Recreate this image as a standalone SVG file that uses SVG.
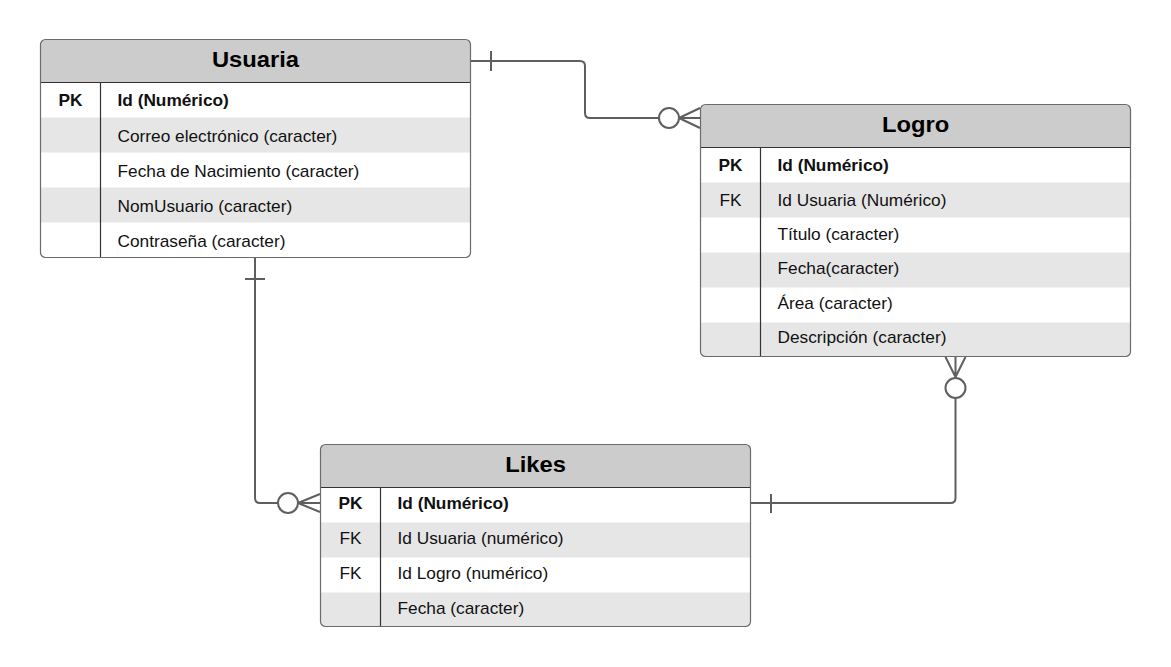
<svg xmlns="http://www.w3.org/2000/svg" width="1171" height="667" viewBox="0 0 1171 667">
<style>
.bg{fill:#ffffff}
.hdr{fill:#cccccc}
.alt{fill:#e6e6e6}
.frame{fill:none;stroke:#6b6b6b;stroke-width:1.2}
.sep{stroke:#333333;stroke-width:1.2;fill:none}
.title{font-family:"Liberation Sans",Arial,sans-serif;font-size:22px;font-weight:bold;fill:#000;text-anchor:middle}
.key{font-family:"Liberation Sans",Arial,sans-serif;font-size:16px;fill:#111;text-anchor:middle}
.fld{font-family:"Liberation Sans",Arial,sans-serif;font-size:16px;fill:#111}
.b{font-weight:bold}
.conn{fill:none;stroke:#5f5f5f;stroke-width:2}
.circ{fill:#ffffff;stroke:#5f5f5f;stroke-width:2}
</style>
<defs>
<clipPath id="cu"><rect x="40.5" y="39.5" width="430" height="218" rx="5"/></clipPath>
<clipPath id="cl"><rect x="700.5" y="104.5" width="430" height="252" rx="5"/></clipPath>
<clipPath id="ck"><rect x="320.5" y="444.5" width="430" height="182" rx="5"/></clipPath>
</defs>
<rect width="1171" height="667" fill="#ffffff"/>

<g id="connectors">
<path class="conn" d="M470.5,61 H580 Q585,61 585,66 V113 Q585,118 590,118 H659"/>
<path class="conn" d="M491,51 V71"/>
<path class="conn" d="M679,118 L700,108 M679,118 L700,118 M679,118 L700,128"/>
<circle class="circ" cx="669" cy="118" r="10"/>

<path class="conn" d="M255,258 V498 Q255,503 260,503 H278"/>
<path class="conn" d="M245,279 H265"/>
<path class="conn" d="M298,503 L320,494 M298,503 L320,503 M298,503 L320,512"/>
<circle class="circ" cx="288" cy="503" r="10"/>

<path class="conn" d="M955.5,398 V498 Q955.5,503 950.5,503 H750.5"/>
<path class="conn" d="M771,494 V513"/>
<path class="conn" d="M955.5,377 L945.5,357 M955.5,377 L955.5,357 M955.5,377 L965.5,357"/>
<circle class="circ" cx="955.5" cy="388" r="10"/>
</g>

<g id="usuaria">
<g clip-path="url(#cu)">
<rect class="bg" x="40.5" y="39.5" width="430" height="218"/>
<rect class="hdr" x="40.5" y="39.5" width="430" height="43"/>
<rect class="alt" x="40.5" y="117.5" width="430" height="35"/>
<rect class="alt" x="40.5" y="187.5" width="430" height="35"/>
</g>
<path class="sep" d="M40.5,82.5 H470.5 M100.5,82.5 V257.5"/>
<rect class="frame" x="40.5" y="39.5" width="430" height="218" rx="5"/>
<text class="title" transform="translate(255.5,67) scale(1.08,1)">Usuaria</text>
<text class="key b" transform="translate(70.5,106) scale(1.08,1)">PK</text>
<text class="fld b" transform="translate(117.5,106) scale(1.08,1)">Id (Numérico)</text>
<text class="fld" transform="translate(117.5,141.5) scale(1.08,1)">Correo electrónico (caracter)</text>
<text class="fld" transform="translate(117.5,177) scale(1.08,1)">Fecha de Nacimiento (caracter)</text>
<text class="fld" transform="translate(117.5,211.5) scale(1.08,1)">NomUsuario (caracter)</text>
<text class="fld" transform="translate(117.5,246.5) scale(1.08,1)">Contraseña (caracter)</text>
</g>

<g id="logro">
<g clip-path="url(#cl)">
<rect class="bg" x="700.5" y="104.5" width="430" height="252"/>
<rect class="hdr" x="700.5" y="104.5" width="430" height="43"/>
<rect class="alt" x="700.5" y="182.5" width="430" height="35"/>
<rect class="alt" x="700.5" y="252.5" width="430" height="35"/>
<rect class="alt" x="700.5" y="322.5" width="430" height="35"/>
</g>
<path class="sep" d="M700.5,147.5 H1130.5 M760.5,147.5 V356.5"/>
<rect class="frame" x="700.5" y="104.5" width="430" height="252" rx="5"/>
<text class="title" transform="translate(915.5,132) scale(1.08,1)">Logro</text>
<text class="key b" transform="translate(730.5,171) scale(1.08,1)">PK</text>
<text class="fld b" transform="translate(777.5,171) scale(1.08,1)">Id (Numérico)</text>
<text class="key" transform="translate(730.5,205.5) scale(1.08,1)">FK</text>
<text class="fld" transform="translate(777.5,205.5) scale(1.08,1)">Id Usuaria (Numérico)</text>
<text class="fld" transform="translate(777.5,239.5) scale(1.08,1)">Título (caracter)</text>
<text class="fld" transform="translate(777.5,274) scale(1.08,1)">Fecha(caracter)</text>
<text class="fld" transform="translate(777.5,308.5) scale(1.08,1)">Área (caracter)</text>
<text class="fld" transform="translate(777.5,343) scale(1.08,1)">Descripción (caracter)</text>
</g>

<g id="likes">
<g clip-path="url(#ck)">
<rect class="bg" x="320.5" y="444.5" width="430" height="182"/>
<rect class="hdr" x="320.5" y="444.5" width="430" height="43"/>
<rect class="alt" x="320.5" y="522.5" width="430" height="35"/>
<rect class="alt" x="320.5" y="592.5" width="430" height="35"/>
</g>
<path class="sep" d="M320.5,487.5 H750.5 M380.5,487.5 V626.5"/>
<rect class="frame" x="320.5" y="444.5" width="430" height="182" rx="5"/>
<text class="title" transform="translate(535.5,472) scale(1.08,1)">Likes</text>
<text class="key b" transform="translate(350.5,509) scale(1.08,1)">PK</text>
<text class="fld b" transform="translate(397.5,509) scale(1.08,1)">Id (Numérico)</text>
<text class="key" transform="translate(350.5,544) scale(1.08,1)">FK</text>
<text class="fld" transform="translate(397.5,544) scale(1.08,1)">Id Usuaria (numérico)</text>
<text class="key" transform="translate(350.5,579) scale(1.08,1)">FK</text>
<text class="fld" transform="translate(397.5,579) scale(1.08,1)">Id Logro (numérico)</text>
<text class="fld" transform="translate(397.5,614) scale(1.08,1)">Fecha (caracter)</text>
</g>
</svg>
